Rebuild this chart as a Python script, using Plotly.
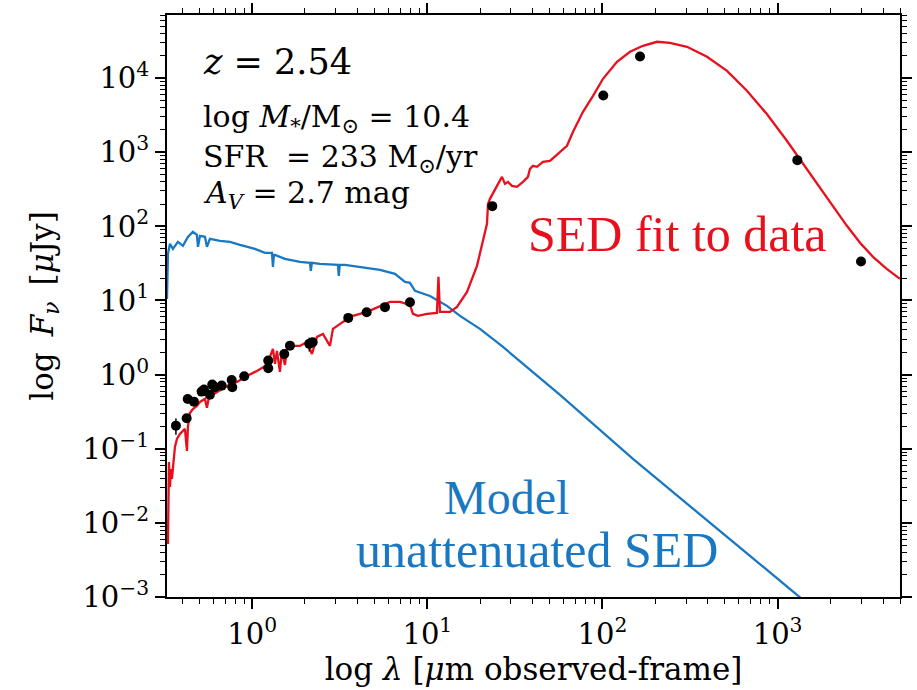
import plotly.graph_objects as go
import math

# ---- Data ----
# Model unattenuated SED (blue): wavelength [um], flux [uJy]
blue_wl = [0.326, 0.330, 0.339, 0.3525, 0.376, 0.402, 0.429, 0.458, 0.483, 0.490,
           0.503, 0.537, 0.551, 0.573, 0.654, 0.746, 0.851, 1.036, 1.182, 1.296,
           1.313, 1.33, 1.348, 1.537, 1.873, 2.136, 2.16, 2.19, 2.436, 3.086,
           3.12, 3.16, 3.384, 4.122, 5.362, 6.531, 7.450, 7.956, 8.500, 10.35,
           12.94, 15.36, 19.97, 27.03, 57.2, 149.3, 469, 1316, 3840]
blue_fl = [10.5, 42.6, 58.1, 49.7, 61.8, 54.6, 72.2, 84.3, 76.8, 52.9,
           74.4, 72.2, 52.9, 67.8, 63.7, 61.8, 56.3, 49.7, 43.9, 43.9,
           28.4, 41.2, 41.2, 36.4, 33.2, 32.2, 25.1, 32.2, 31.2, 30.2,
           21.5, 30.2, 30.2, 28.3, 25.9, 22.9, 17.8, 17.3, 13.5, 11.5,
           8.46, 6.20, 4.14, 2.36, 0.532, 0.0728, 0.00778, 0.00103, 0.000107]

# SED fit to data (red)
red_wl = [0.330, 0.3345, 0.339, 0.3433, 0.3478, 0.357, 0.3619, 0.3715, 0.3865, 0.402,
          0.4127, 0.4237, 0.4293, 0.4406, 0.458, 0.483, 0.503, 0.537, 0.551, 0.566,
          0.629, 0.717, 0.818, 0.933, 1.064, 1.213, 1.262, 1.313, 1.348, 1.384,
          1.439, 1.477, 1.537, 1.578, 1.642, 1.873, 2.053, 2.193, 2.342, 2.534,
          2.778, 2.89, 3.296, 3.759, 4.519, 5.362, 6.115, 6.977, 7.956, 8.277,
          8.840, 9.947, 11.34, 11.57, 11.80, 12.94, 13.46, 14.76, 16.84, 19.20,
          20.78, 21.90, 22.19, 22.78, 24.98, 26.67, 27.75, 28.86, 30.42, 32.49,
          35.16, 37.54, 38.55, 40.10, 42.27, 45.73, 50.13, 57.2, 62.7, 67.9,
          77.4, 88.3, 100.7, 121.0, 143.6, 170.3, 204.8, 242.9, 303.8, 395.3,
          514.1, 666, 866, 1127, 1296, 1466, 1907, 2481, 2994, 3520,
          4199, 5000]
red_fl = [0.00519, 0.0664, 0.0305, 0.0534, 0.0391, 0.0851, 0.1057, 0.1355, 0.1584, 0.174,
          0.185, 0.0934, 0.197, 0.304, 0.344, 0.378, 0.428, 0.470, 0.356, 0.500,
          0.584, 0.704, 0.797, 0.961, 1.122, 1.352, 1.733, 2.22, 1.394, 2.088,
          1.087, 2.088, 1.352, 2.22, 2.44, 2.44, 2.76, 1.90, 3.23, 3.54,
          2.44, 4.14, 5.14, 6.20, 7.02, 8.46, 9.57, 9.57, 8.72, 6.60,
          6.20, 6.60, 6.80, 20.8, 7.02, 7.02, 7.02, 8.20, 13.07, 29.3,
          67.8, 108, 201, 235, 352, 465, 374, 398, 352, 341,
          398, 465, 597, 656, 635, 742, 766, 1012, 1220, 1884,
          3508, 5770, 9790, 16600, 22650, 27300, 30900, 29950, 26450, 19380,
          12540, 6804, 3297, 1438, 903, 597, 248, 102.5, 58.0, 38.4,
          26.7, 19.6]

# Photometry (black points)
obs_wl = [0.3666, 0.422, 0.428, 0.4645, 0.514, 0.530, 0.573, 0.591, 0.612, 0.669,
          0.763, 0.769, 0.900, 1.234, 1.234, 1.523, 1.642, 2.117, 2.213, 3.534,
          4.501, 5.727, 7.956, 23.48, 101.1, 163.8, 1296, 2994]
obs_fl = [0.205, 0.258, 0.470, 0.432, 0.590, 0.628, 0.537, 0.733, 0.676, 0.711,
          0.848, 0.676, 0.951, 1.545, 1.22, 1.90, 2.46, 2.60, 2.74, 5.82,
          6.95, 8.13, 9.49, 187.4, 5820, 19550, 782, 33.5]
obs_err = [0.05, 0.03, 0.03, 0.03, 0.03, 0.03, 0.03, 0.03, 0.03, 0.03,
           0.04, 0.04, 0.05, 0.08, 0.08, 0.15, 0.15, 0.55, 0.3, 0.2,
           0.2, 0.3, 0.4, 10, 300, 900, 40, 3]

x_tick_vals = [1, 10, 100, 1000]
x_tick_text = ["10<sup>0</sup>", "10<sup>1</sup>", "10<sup>2</sup>", "10<sup>3</sup>"]
y_tick_vals = [1e-3, 1e-2, 1e-1, 1, 10, 100, 1e3, 1e4]
y_tick_text = ["10<sup>\u22123</sup>", "10<sup>\u22122</sup>", "10<sup>\u22121</sup>",
               "10<sup>0</sup>", "10<sup>1</sup>", "10<sup>2</sup>", "10<sup>3</sup>",
               "10<sup>4</sup>"]

x_min, x_max = 0.326, 5000
y_min, y_max = 1e-3, 7.1e4

RED = "#e8101c"
BLUE = "#1a78c2"
SERIF = "DejaVu Serif"
TEXTF = "Liberation Serif"

x_minor = [k * 10 ** e for e in range(-1, 4) for k in range(2, 10)
           if x_min <= k * 10 ** e <= x_max]
y_minor = [k * 10 ** e for e in range(-3, 5) for k in range(2, 10)
           if y_min <= k * 10 ** e <= y_max]

fig = go.Figure()
fig.add_trace(go.Scatter(x=blue_wl, y=blue_fl, mode="lines",
                         line=dict(color=BLUE, width=2.3), showlegend=False,
                         name="Model unattenuated SED"))
fig.add_trace(go.Scatter(x=red_wl, y=red_fl, mode="lines",
                         line=dict(color=RED, width=2.3), showlegend=False,
                         name="SED fit to data"))
fig.add_trace(go.Scatter(x=obs_wl, y=obs_fl, mode="markers",
                         marker=dict(color="black", size=10),
                         error_y=dict(type="data", array=obs_err, color="black",
                                      thickness=1.5, width=0),
                         showlegend=False, name="data"))

axis_common = dict(type="log", showgrid=False, zeroline=False, showline=True,
                   linecolor="black", linewidth=2, mirror="ticks",
                   ticks="outside", ticklen=10, tickwidth=1.8, tickcolor="black",
                   tickfont=dict(family=SERIF, size=29, color="black"),
                   automargin=False)

fig.update_xaxes(**axis_common, range=[math.log10(x_min), math.log10(x_max)],
                 tickmode="array", tickvals=x_tick_vals, ticktext=x_tick_text,
                 minor=dict(tickmode="array", tickvals=x_minor, ticks="outside",
                            ticklen=5, tickwidth=1.2, tickcolor="black"),
                 title=dict(text="log <i>\u03bb</i> [<i>\u03bc</i>m observed-frame]",
                            font=dict(family=SERIF, size=31, color="black"),
                            standoff=4))
fig.update_yaxes(**axis_common, range=[math.log10(y_min), math.log10(y_max)],
                 tickmode="array", tickvals=y_tick_vals, ticktext=y_tick_text,
                 minor=dict(tickmode="array", tickvals=y_minor, ticks="outside",
                            ticklen=5, tickwidth=1.2, tickcolor="black"),
                 title=dict(text="log\u2009 <i>F</i><sub><i>\u03bd</i></sub>\u2009 [<i>\u03bc</i>Jy]",
                            font=dict(family=SERIF, size=31, color="black"),
                            standoff=20))

def pann(text, x, y, size, color="black", family=SERIF, xanchor="left"):
    fig.add_annotation(text=text, x=x, y=y, xref="paper", yref="paper",
                       xanchor=xanchor, yanchor="middle", showarrow=False,
                       font=dict(family=family, size=size, color=color))

pann("<i>z</i> = 2.54", 0.046, 0.919, 35)
pann("log <i>M</i><sub>*</sub>/M<sub>\u2299</sub> = 10.4", 0.046, 0.823, 30)
pann("SFR  = 233 M<sub>\u2299</sub>/yr", 0.046, 0.754, 30)
pann("<i>A</i><sub><i>V</i></sub> = 2.7 mag", 0.046, 0.692, 30)

pann("SED fit to data", 0.697, 0.624, 50, RED, TEXTF, "center")
pann("Model", 0.4638, 0.1718, 48, BLUE, TEXTF, "center")
pann("unattenuated SED", 0.5048, 0.0808, 50, BLUE, TEXTF, "center")

fig.update_layout(width=917, height=690,
                  margin=dict(l=167, r=17, t=15, b=93),
                  paper_bgcolor="white", plot_bgcolor="white")

fig.write_html("out.html")
